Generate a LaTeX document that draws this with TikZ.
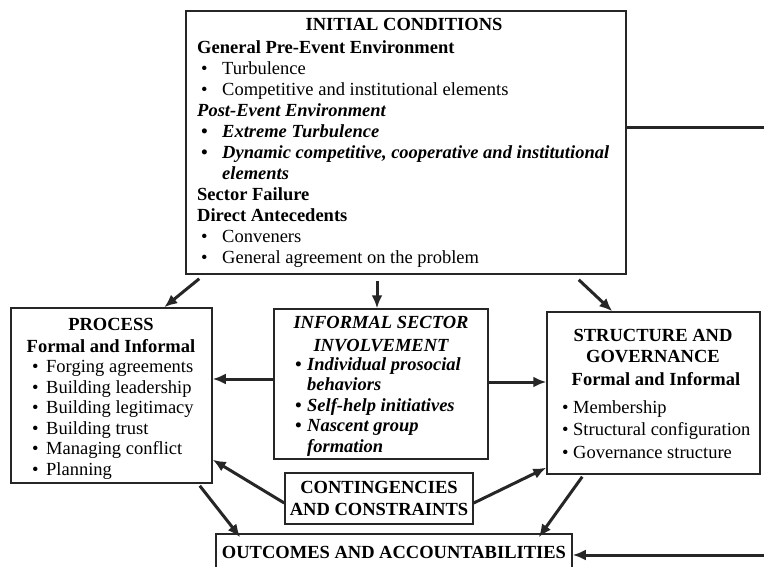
\documentclass[tikz,border=0pt]{standalone}
\usepackage{fontspec}
\setmainfont{Liberation Serif}
\usetikzlibrary{arrows.meta}
\newcommand\fs{\fontsize{18.5}{21}\selectfont}
\newcommand\Ln[1]{\hbox{#1}}
\newcommand\Cn[1]{\hbox to 0pt{\hss#1\hss}}
\newcommand\Vt[2]{\vtop{\baselineskip=#1pt\lineskiplimit=-100pt\lineskip=0pt #2}}
\newcommand\Bu[2]{\makebox[#1][l]{\textbullet}#2}
\begin{document}
\begin{tikzpicture}[x=1pt,y=-1pt,
  box/.style={draw=black!85, line width=1.5pt, inner sep=0pt},
  txt/.style={inner sep=0pt, anchor=base west, font=\fs, text=black},
  ctxt/.style={inner sep=0pt, anchor=base, font=\fs, text=black},
  arr/.style={draw=black!85, line width=3pt, -{Latex[length=13pt,width=11pt]}}]
\useasboundingbox (0,0) rectangle (764,567);
\fill[white] (0,0) rectangle (764,567);

% boxes
\node[box, minimum width=440pt, minimum height=263pt] (init) at (406,142.5) {};
\node[box, minimum width=201pt, minimum height=175pt] (proc) at (111.5,395.5) {};
\node[box, minimum width=214pt, minimum height=150pt] (inf) at (381,384) {};
\node[box, minimum width=213pt, minimum height=162pt] (str) at (653.5,393) {};
\node[box, minimum width=188pt, minimum height=51pt] (cont) at (379,498.5) {};
\node[box, minimum width=356pt, minimum height=38pt] (outc) at (394,553) {};

% initial conditions text
\node[ctxt] (inittitle) at (404,31) {\bfseries INITIAL CONDITIONS};
\node[txt] (initbody) at (197,54) {\Vt{21}{%
  \Ln{\bfseries General Pre-Event Environment}%
  \Ln{\hspace{4pt}\Bu{21pt}{Turbulence}}%
  \Ln{\hspace{4pt}\Bu{21pt}{Competitive and institutional elements}}%
  \Ln{\bfseries\itshape Post-Event Environment}%
  \Ln{\bfseries\itshape\hspace{4pt}\Bu{21pt}{Extreme Turbulence}}%
  \Ln{\bfseries\itshape\hspace{4pt}\Bu{21pt}{Dynamic competitive, cooperative and institutional}}%
  \Ln{\bfseries\itshape\hspace{25pt}elements}%
  \Ln{\bfseries Sector Failure}%
  \Ln{\bfseries Direct Antecedents}%
  \Ln{\hspace{4pt}\Bu{21pt}{Conveners}}%
  \Ln{\hspace{4pt}\Bu{21pt}{General agreement on the problem}}}};

% process text
\node[ctxt] (proctitle) at (111,330) {\bfseries PROCESS};
\node[ctxt] (procsub) at (111,352) {\bfseries Formal and Informal};
\node[txt] (procbody) at (32,372.5) {\Vt{20.6}{%
  \Ln{\Bu{14pt}{Forging agreements}}%
  \Ln{\Bu{14pt}{Building leadership}}%
  \Ln{\Bu{14pt}{Building legitimacy}}%
  \Ln{\Bu{14pt}{Building trust}}%
  \Ln{\Bu{14pt}{Managing conflict}}%
  \Ln{\Bu{14pt}{Planning}}}};

% informal sector text
\node[ctxt] (inftitle) at (381,328) {\Vt{23}{%
  \Cn{\bfseries\itshape INFORMAL SECTOR}%
  \Cn{\bfseries\itshape INVOLVEMENT}}};
\node[txt] (infbody) at (295,370) {\Vt{20.5}{%
  \Ln{\bfseries\itshape\Bu{12pt}{Individual prosocial}}%
  \Ln{\bfseries\itshape\hspace{12pt}behaviors}%
  \Ln{\bfseries\itshape\Bu{12pt}{Self-help initiatives}}%
  \Ln{\bfseries\itshape\Bu{12pt}{Nascent group}}%
  \Ln{\bfseries\itshape\hspace{12pt}formation}}};

% structure text
\node[ctxt] (strtitle) at (653,341) {\Vt{21}{%
  \Cn{\bfseries STRUCTURE AND}%
  \Cn{\bfseries GOVERNANCE}}};
\node[ctxt] (strsub) at (656,385) {\bfseries Formal and Informal};
\node[txt] (strbody) at (562,413) {\Vt{22.5}{%
  \Ln{\Bu{11pt}{Membership}}%
  \Ln{\Bu{11pt}{Structural configuration}}%
  \Ln{\Bu{11pt}{Governance structure}}}};

% contingencies text
\node[ctxt] (conttext) at (379,493) {\Vt{22}{%
  \Cn{\bfseries CONTINGENCIES}%
  \Cn{\bfseries AND CONSTRAINTS}}};

% outcomes text
\node[ctxt] (outctext) at (394,558) {\bfseries OUTCOMES AND ACCOUNTABILITIES};

% arrows from initial conditions
\draw[arr] ([xshift=14pt,yshift=-4pt]init.south west) -- ([xshift=154pt]proc.north west);
\draw[arr] ([xshift=-29pt,yshift=-6pt]init.south) -- ([xshift=-4pt]inf.north);
\draw[arr] ([xshift=-48pt,yshift=-5pt]init.south east) -- ([xshift=66pt]str.north west);

% informal sector to process and structure
\coordinate (i4) at ([yshift=5pt]inf.west);
\draw[arr] (i4) -- (i4 -| proc.east);
\coordinate (i5) at ([yshift=2pt]inf.east);
\draw[arr] (i5) -- (i5 -| str.west);

% contingencies
\draw[arr] ([yshift=-4.5pt]cont.west) -- ([yshift=24pt]proc.south east);
\draw[arr] ([yshift=-4.5pt]cont.east) -- ([yshift=7pt]str.south west);

% to outcomes
\draw[arr] ([xshift=-13pt,yshift=-2pt]proc.south east) -- ([xshift=25pt,yshift=-4pt]outc.north west);
\draw[arr] ([xshift=36pt,yshift=-2pt]str.south west) -- ([xshift=-34pt,yshift=-4pt]outc.north east);

% feedback loop
\coordinate (fbA) at (768,128);
\coordinate (fbB) at (768,555);
\draw[arr] (init.east |- fbA) -- (fbA) -- (fbB) -- (outc.east |- fbB);
\end{tikzpicture}
\end{document}
